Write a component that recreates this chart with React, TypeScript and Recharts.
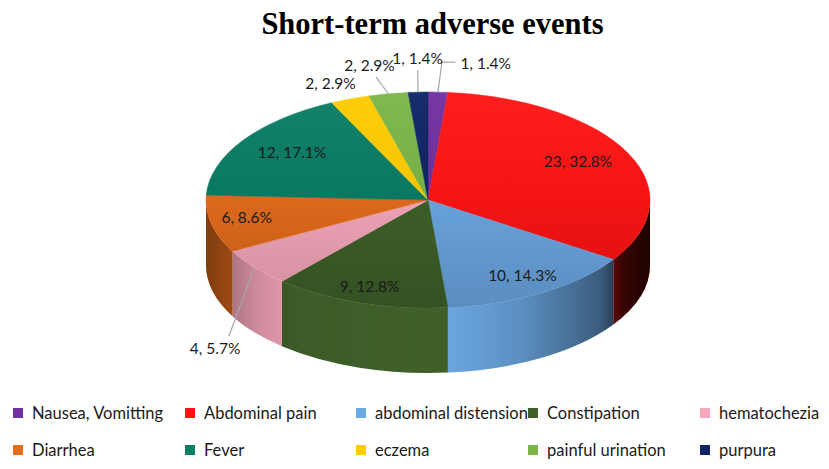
import React from "react";
import { PieChart, Pie } from "recharts";

const categories = [
  "Nausea, Vomitting",
  "Abdominal pain",
  "abdominal distension",
  "Constipation",
  "hematochezia",
  "Diarrhea",
  "Fever",
  "eczema",
  "painful urination",
  "purpura",
];
const counts = [1, 23, 10, 9, 4, 6, 12, 2, 2, 1];
const percents = [1.4, 32.8, 14.3, 12.8, 5.7, 8.6, 17.1, 2.9, 2.9, 1.4];
const colors = [
  "#7030A0",
  "#FF1414",
  "#6CA8E4",
  "#3F6129",
  "#F7A8BC",
  "#E46C1C",
  "#0A7D64",
  "#FFCC00",
  "#7AB648",
  "#0D2466",
];

const data = categories.map((name, i) => ({
  name,
  value: counts[i],
  pct: percents[i],
  fill: colors[i],
}));

// pie geometry
const CX = 428;
const CY = 200;
const RX = 222;
const TILT = 108 / 222;
const DEPTH = 65;
const FONT = "Lato, 'Liberation Sans', sans-serif";

// label nudges (dx, dy) relative to the computed anchor
const labelLayout = [
  { dx: 20, dy: -2, anchor: "start" },
  { dx: 0, dy: -4 },
  { dx: 9, dy: 5 },
  { dx: -7, dy: 9 },
  { dx: 4, dy: -1 },
  { dx: -19, dy: -1 },
  { dx: 3, dy: -3 },
  { dx: 0, dy: 9 },
  { dx: -9, dy: -2 },
  { dx: 2, dy: -7 },
];

const rad = (a: number) => (a * Math.PI) / 180;

const ellipsePt = (cx: number, cy: number, r: number, a: number, f = 1, dy = 0) => [
  cx + r * f * Math.cos(rad(a)),
  cy - r * TILT * f * Math.sin(rad(a)) + dy,
];

const renderSlice = (props: any) => {
  const { cx, cy, outerRadius, startAngle, endAngle, fill } = props;
  const rx = outerRadius;
  const ry = outerRadius * TILT;
  const s = Math.max(startAngle, endAngle);
  const e = Math.min(startAngle, endAngle);
  const [sx, sy] = ellipsePt(cx, cy, rx, s);
  const [ex, ey] = ellipsePt(cx, cy, rx, e);
  const large = s - e > 180 ? 1 : 0;
  const top = `M${cx},${cy} L${sx},${sy} A${rx},${ry} 0 ${large} 1 ${ex},${ey} Z`;

  // side wall only on the front half
  const hi = Math.min(s, 0);
  const lo = Math.max(e, -180);
  let side = null;
  if (hi > lo) {
    const [ax, ay] = ellipsePt(cx, cy, rx, hi);
    const [bx, by] = ellipsePt(cx, cy, rx, lo);
    const d = `M${ax},${ay} A${rx},${ry} 0 0 1 ${bx},${by} L${bx},${by + DEPTH} A${rx},${ry} 0 0 0 ${ax},${ay + DEPTH} Z`;
    side = (
      <g>
        <path d={d} fill={fill} />
        <path d={d} fill="url(#sideShade)" />
      </g>
    );
  }
  return (
    <g>
      {side}
      <path d={top} fill={fill} stroke={fill} strokeWidth={0.5} />
      <path d={top} fill="url(#topShade)" />
    </g>
  );
};

const renderLabel = (props: any) => {
  const { cx, cy, midAngle, outerRadius, index, value } = props;
  const lay = labelLayout[index];
  const outside = value <= 4;
  const front = Math.sin(rad(midAngle)) < 0;
  const text = `${value}, ${percents[index].toFixed(1)}%`;
  const style = { fontFamily: FONT, fontSize: 15.5, fill: "#1a1a1a" };
  if (!outside) {
    const [x, y] = ellipsePt(cx, cy, outerRadius, midAngle, 0.75);
    return (
      <text x={x + lay.dx} y={y + lay.dy} textAnchor="middle" dominantBaseline="central" style={style}>
        {text}
      </text>
    );
  }
  const [px, py] = ellipsePt(cx, cy, outerRadius, midAngle, 1.25, front ? DEPTH : 0);
  const tx = px + lay.dx;
  const ty = py + lay.dy;
  const [ex, ey] = ellipsePt(cx, cy, outerRadius, midAngle, 1);
  let line = null;
  if (lay.anchor === "start") {
    line = <polyline points={`${ex},${ey} ${ex + 4},${ty - 1} ${tx - 5},${ty - 1}`} fill="none" stroke="#A6A6A6" strokeWidth={1.2} />;
  } else {
    const kx = tx + (ex - tx) * 0.35;
    const ky = ty + (ey > ty ? 12 : -12);
    if (Math.hypot(ex - kx, ey - ky) > 18) {
      line = <line x1={ex} y1={ey} x2={kx} y2={ky} stroke="#A6A6A6" strokeWidth={1.2} />;
    }
  }
  return (
    <g>
      {line}
      <text x={tx} y={ty} textAnchor={lay.anchor || "middle"} dominantBaseline="central" style={style}>
        {text}
      </text>
    </g>
  );
};

const legendCols = [13, 185, 356, 528, 700];
const legendRows = [413, 450];

export default function App() {
  return (
    <div style={{ position: "absolute", left: 0, top: 0, width: 829, height: 469, background: "#fff", overflow: "hidden" }}>
      <svg width={0} height={0} style={{ position: "absolute" }}>
        <defs>
          <linearGradient id="sideShade" gradientUnits="userSpaceOnUse" x1={CX - RX} y1={0} x2={CX + RX} y2={0}>
            <stop offset="0" stopColor="#000" stopOpacity={0.45} />
            <stop offset="0.11" stopColor="#000" stopOpacity={0.18} />
            <stop offset="0.21" stopColor="#000" stopOpacity={0.05} />
            <stop offset="0.53" stopColor="#000" stopOpacity={0} />
            <stop offset="0.71" stopColor="#000" stopOpacity={0.15} />
            <stop offset="0.89" stopColor="#000" stopOpacity={0.45} />
            <stop offset="0.94" stopColor="#000" stopOpacity={0.78} />
            <stop offset="1" stopColor="#000" stopOpacity={0.88} />
          </linearGradient>
          <linearGradient id="topShade" gradientUnits="userSpaceOnUse" x1={0} y1={CY - 108} x2={0} y2={CY + 108}>
            <stop offset="0" stopColor="#fff" stopOpacity={0.04} />
            <stop offset="0.5" stopColor="#000" stopOpacity={0.04} />
            <stop offset="1" stopColor="#000" stopOpacity={0.16} />
          </linearGradient>
        </defs>
      </svg>
      <div
        style={{
          position: "absolute",
          left: 18,
          top: 6,
          width: 829,
          textAlign: "center",
          fontFamily: "'Liberation Serif', 'Times New Roman', serif",
          fontWeight: "bold",
          fontSize: 30.5,
          lineHeight: "36px",
        }}
      >
        Short-term adverse events
      </div>
      <div style={{ position: "absolute", left: 0, top: 0 }}>
        <PieChart width={829} height={400} margin={{ top: 0, right: 0, bottom: 0, left: 0 }}>
          <Pie
            data={data}
            dataKey="value"
            nameKey="name"
            cx={CX}
            cy={CY}
            outerRadius={RX}
            startAngle={90}
            endAngle={-270}
            stroke="none"
            isAnimationActive={false}
            shape={renderSlice}
            activeShape={renderSlice}
            inactiveShape={renderSlice}
            label={renderLabel}
            labelLine={false}
          />
        </PieChart>
      </div>
      {categories.map((name, i) => (
        <div
          key={name}
          style={{
            position: "absolute",
            left: legendCols[i % 5],
            top: legendRows[Math.floor(i / 5)] - 10,
            height: 20,
            display: "flex",
            alignItems: "center",
            fontFamily: FONT,
            fontSize: 16.5,
            color: "#1a1a1a",
            whiteSpace: "nowrap",
          }}
        >
          <span style={{ width: 10, height: 10, background: colors[i], marginRight: 9, display: "inline-block" }} />
          {name}
        </div>
      ))}
    </div>
  );
}
